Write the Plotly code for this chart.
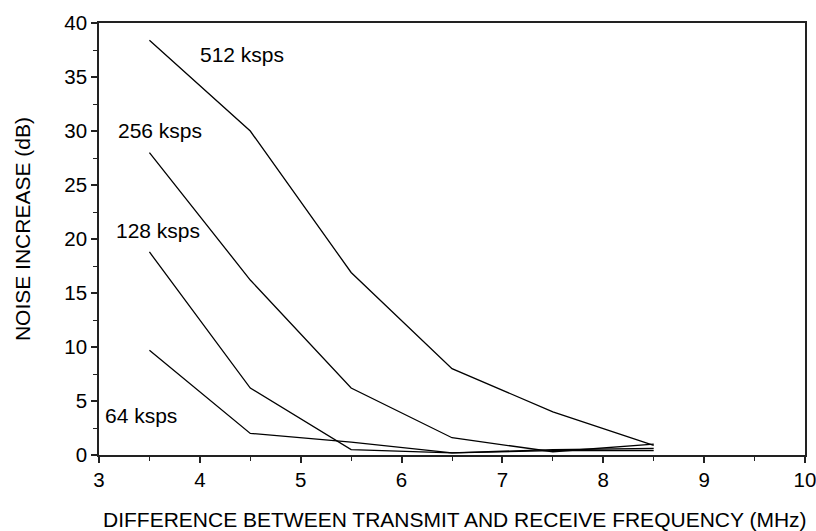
import plotly.graph_objects as go

freq = [3.5, 4.5, 5.5, 6.5, 7.5, 8.5]
series_names = ["512 ksps", "256 ksps", "128 ksps", "64 ksps"]
noise_512 = [38.4, 30.0, 16.9, 8.0, 4.0, 0.9]
noise_256 = [28.0, 16.2, 6.2, 1.6, 0.3, 1.0]
noise_128 = [18.8, 6.2, 0.5, 0.2, 0.5, 0.6]
noise_64 = [9.7, 2.0, 1.2, 0.2, 0.4, 0.4]
label_x = [4.42, 3.60, 3.58, 3.42]
label_y = [37.1, 30.05, 20.8, 3.66]
x_ticks = [3, 4, 5, 6, 7, 8, 9, 10]
y_ticks = [0, 5, 10, 15, 20, 25, 30, 35, 40]

all_series = [noise_512, noise_256, noise_128, noise_64]

FONT = "Liberation Sans, Arial, Helvetica, sans-serif"

fig = go.Figure()
for name, vals in zip(series_names, all_series):
    fig.add_trace(go.Scatter(x=freq, y=vals, mode="lines", name=name,
                             line=dict(color="black", width=1.3), showlegend=False))

for name, lx, ly in zip(series_names, label_x, label_y):
    fig.add_annotation(x=lx, y=ly, text=name, showarrow=False, xanchor="center",
                       yanchor="middle", font=dict(size=21, color="black"))

fig.add_annotation(xref="paper", yref="paper", x=0.504, y=-0.150,
                   text="DIFFERENCE BETWEEN TRANSMIT AND RECEIVE FREQUENCY (MHz)",
                   showarrow=False, xanchor="center", yanchor="middle",
                   font=dict(size=21, color="black"))
fig.add_annotation(xref="paper", yref="paper", x=-0.109, y=0.523,
                   text="NOISE INCREASE (dB)", textangle=-90,
                   showarrow=False, xanchor="center", yanchor="middle",
                   font=dict(size=21, color="black"))

axis_common = dict(showgrid=False, zeroline=False, showline=True, linecolor="#222",
                   linewidth=1.6, mirror=True, ticks="outside", ticklen=6, tickwidth=1.5,
                   tickcolor="#222", tickfont=dict(size=20.5), automargin=False,
                   ticklabeloverflow="allow")

fig.update_layout(
    width=816, height=531,
    margin=dict(l=99, r=11, t=23, b=76),
    paper_bgcolor="white", plot_bgcolor="white",
    font=dict(family=FONT, color="black", size=20),
    xaxis=dict(range=[3, 10], tickvals=x_ticks,
               minor=dict(dtick=0.5, ticks="outside", ticklen=4, tickcolor="#222", tickwidth=1),
               **axis_common),
    yaxis=dict(range=[0, 40], tickvals=y_ticks,
               minor=dict(dtick=2.5, ticks="outside", ticklen=4, tickcolor="#222", tickwidth=1),
               **axis_common),
)

fig.write_html("out.html", config={"displayModeBar": False},
               post_script="document.body.style.margin='0';")
